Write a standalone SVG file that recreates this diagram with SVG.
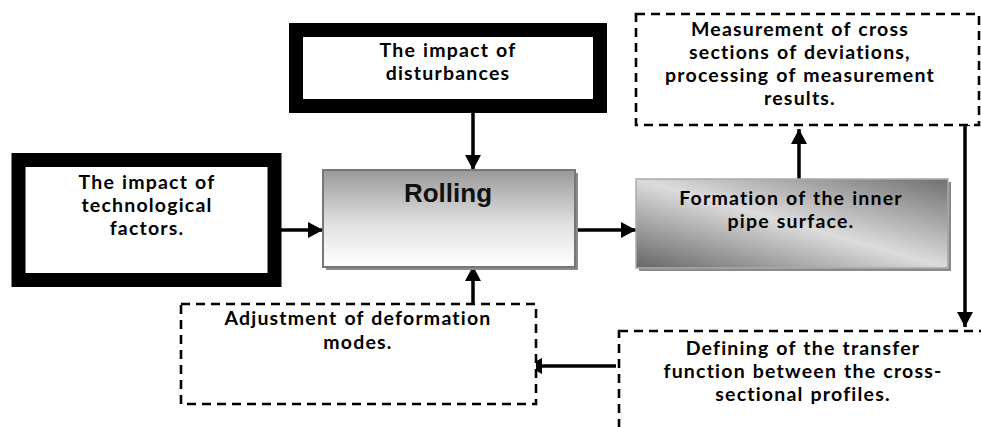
<svg xmlns="http://www.w3.org/2000/svg" width="981" height="427" viewBox="0 0 981 427">
<style>
.t{font-family:Lato,"Open Sans","Liberation Sans",sans-serif;font-weight:bold;font-size:19.5px;letter-spacing:1.2px;word-spacing:1px;fill:#000;text-anchor:middle}
.r{font-family:"Liberation Sans",Arial,sans-serif;font-weight:bold;font-size:26px;fill:#111;text-anchor:middle}
.thick{fill:#fff;stroke:#000;stroke-width:14}
.dash{fill:#fff;stroke:#000;stroke-width:2.6;stroke-dasharray:9 6}
.c{stroke:#000;stroke-width:3.5;fill:none;marker-end:url(#ah)}
.sh{fill:#8a8a8a}
</style>
<defs>
<marker id="ah" markerUnits="userSpaceOnUse" markerWidth="16" markerHeight="16" refX="15" refY="8" orient="auto">
<path d="M0,0 L15,8 L0,16 z" fill="#000"/>
</marker>
<linearGradient id="gRoll" x1="0" y1="0" x2="0" y2="1">
<stop offset="0" stop-color="#999"/>
<stop offset="0.55" stop-color="#e0e0e0"/>
<stop offset="1" stop-color="#fff"/>
</linearGradient>
<linearGradient id="gForm" x1="0" y1="1" x2="1" y2="0">
<stop offset="0" stop-color="#666"/>
<stop offset="0.5" stop-color="#dcdcdc"/>
<stop offset="1" stop-color="#707070"/>
</linearGradient>
</defs>

<g id="connectors">
<line class="c" x1="473" y1="112" x2="473" y2="170"/>
<line class="c" x1="280" y1="230" x2="323" y2="230"/>
<line class="c" x1="569" y1="230" x2="636" y2="230"/>
<line class="c" x1="473" y1="304" x2="473" y2="266"/>
<line class="c" x1="799" y1="180" x2="799" y2="129"/>
<line class="c" x1="965" y1="124" x2="965" y2="327"/>
<line x1="960" y1="125" x2="970" y2="125" stroke="#000" stroke-width="2"/>
<line class="c" x1="616" y1="366" x2="527" y2="366"/>
</g>

<g id="node-disturbances">
<rect class="thick" x="296" y="30" width="304" height="76"/>
<text class="t" x="448" y="57">The impact of</text>
<text class="t" x="448" y="80">disturbances</text>
</g>

<g id="node-technological">
<rect class="thick" x="18.5" y="160" width="256" height="120"/>
<text class="t" x="147" y="189">The impact of</text>
<text class="t" x="147" y="212">technological</text>
<text class="t" x="147" y="235">factors.</text>
</g>

<g id="node-rolling">
<rect class="sh" x="326" y="173" width="252" height="97"/>
<rect x="323" y="170" width="252" height="97" fill="url(#gRoll)" stroke="#777" stroke-width="2"/>
<text class="r" x="448" y="202">Rolling</text>
</g>

<g id="node-formation">
<rect class="sh" x="639" y="182" width="312" height="89"/>
<rect x="636" y="179" width="312" height="89" fill="url(#gForm)" stroke="#aaa" stroke-width="1.5"/>
<text class="t" x="791" y="205">Formation of the inner</text>
<text class="t" x="791" y="228">pipe surface.</text>
</g>

<g id="node-measurement">
<rect class="dash" x="636" y="14" width="343" height="111"/>
<text class="t" x="800" y="36">Measurement of cross</text>
<text class="t" x="800" y="59">sections of deviations,</text>
<text class="t" x="800" y="82">processing of measurement</text>
<text class="t" x="800" y="105">results.</text>
</g>

<g id="node-adjustment">
<rect class="dash" x="181" y="304" width="355" height="100"/>
<text class="t" x="358" y="325">Adjustment of deformation</text>
<text class="t" x="358" y="349">modes.</text>
</g>

<g id="node-defining">
<rect class="dash" x="619" y="331" width="366" height="110"/>
<text class="t" x="803" y="355">Defining of the transfer</text>
<text class="t" x="803" y="378">function between the cross-</text>
<text class="t" x="803" y="401">sectional profiles.</text>
</g>
</svg>
